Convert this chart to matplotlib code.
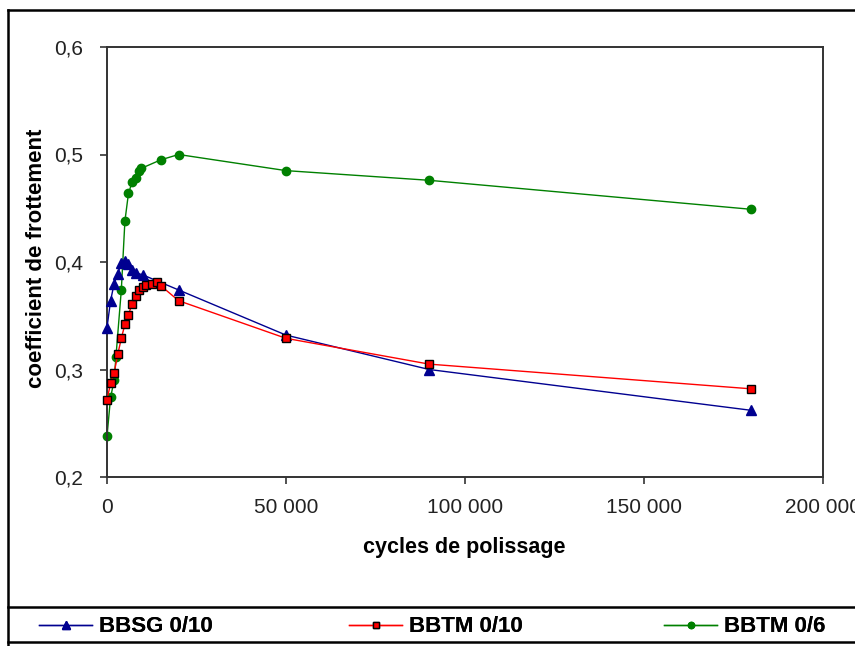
import matplotlib.pyplot as plt
from matplotlib.lines import Line2D
from matplotlib.ticker import FuncFormatter

plt.rcParams['font.family'] = ['Liberation Sans', 'DejaVu Sans']

# BBSG 0/10
x_bbsg = [0, 1000, 2000, 3000, 4000, 5000, 6000, 7000, 8000, 10000, 20000, 50000, 90000, 180000]
y_bbsg = [0.339, 0.364, 0.380, 0.389, 0.399, 0.401, 0.398, 0.393, 0.390, 0.388, 0.374, 0.332, 0.300, 0.262]

# BBTM 0/10
x_bbtm10 = [0, 1000, 2000, 3000, 4000, 5000, 6000, 7000, 8000, 9000, 10000, 11000, 12500, 14000, 15000,
            20000, 50000, 90000, 180000]
y_bbtm10 = [0.272, 0.287, 0.297, 0.314, 0.329, 0.342, 0.351, 0.361, 0.368, 0.374, 0.377, 0.379, 0.380,
            0.381, 0.378, 0.364, 0.329, 0.305, 0.282]

# BBTM 0/6
x_bbtm6 = [0, 1000, 2000, 2500, 4000, 5000, 6000, 7000, 8000, 9000, 9500, 15000, 20000, 50000, 90000, 180000]
y_bbtm6 = [0.238, 0.274, 0.290, 0.312, 0.374, 0.438, 0.464, 0.474, 0.478, 0.485, 0.487, 0.495, 0.500,
           0.485, 0.476, 0.449]

fig = plt.figure(figsize=(8.55, 6.46), dpi=100)
ax = fig.add_axes([107 / 855, 1 - 477 / 646, (823 - 107) / 855, (477 - 47) / 646])

l1, = ax.plot(x_bbsg, y_bbsg, color='#000090', lw=1, marker='^', ms=7, mec='#000090', mfc='#000090',
              label='BBSG 0/10', clip_on=False, zorder=3)
l2, = ax.plot(x_bbtm10, y_bbtm10, color='#ff0000', lw=1, marker='s', ms=6, mec='black', mew=1, mfc='#ff0000',
              label='BBTM 0/10', clip_on=False, zorder=4)
l3, = ax.plot(x_bbtm6, y_bbtm6, color='#008000', lw=1, marker='o', ms=6, mec='#008000', mfc='#008000',
              label='BBTM 0/6', clip_on=False, zorder=2)

ax.set_xlim(0, 200000)
ax.set_ylim(0.2, 0.6)
ax.set_xticks([0, 50000, 100000, 150000, 200000])
ax.set_yticks([0.2, 0.3, 0.4, 0.5, 0.6])
ax.xaxis.set_major_formatter(FuncFormatter(lambda v, p: f'{int(v):,}'.replace(',', ' ')))
ax.yaxis.set_major_formatter(FuncFormatter(lambda v, p: f'{v:.1f}'.replace('.', ',')))
ax.tick_params(direction='out', length=5, width=1.2, color='#333333', labelsize=15, labelcolor='#222222')
ax.tick_params(axis='x', pad=10)
ax.tick_params(axis='y', pad=12)
for s in ax.spines.values():
    s.set_color('#333333')
    s.set_linewidth(1.4)

fig.text(37 / 855, 1 - 258 / 646, 'coefficient de frottement', rotation=90, ha='center', va='center',
         fontsize=16, fontweight='bold')
fig.text(464 / 855, 1 - 548 / 646, 'cycles de polissage', ha='center', va='center',
         fontsize=15.5, fontweight='bold')

# cadre exterieur et boite de legende
for xs, ys in [([8, 8], [10, 646]), ([8, 855], [10, 10]), ([8, 855], [607, 607]), ([8, 855], [642, 642])]:
    fig.add_artist(Line2D([x / 855 for x in xs], [1 - y / 646 for y in ys], color='black', lw=1.8))

# legende : une entree par colonne
for h, x0 in [(l1, 30), (l2, 340), (l3, 655)]:
    leg = fig.legend(handles=[h], loc='center left', bbox_to_anchor=(x0 / 855, 1 - 627 / 646),
                     frameon=False, handlelength=2.4, handletextpad=0.3, markerscale=0.75,
                     borderaxespad=0, prop={'weight': 'bold', 'size': 16})
    fig.add_artist(leg)

fig.savefig('out.png', dpi=100)
